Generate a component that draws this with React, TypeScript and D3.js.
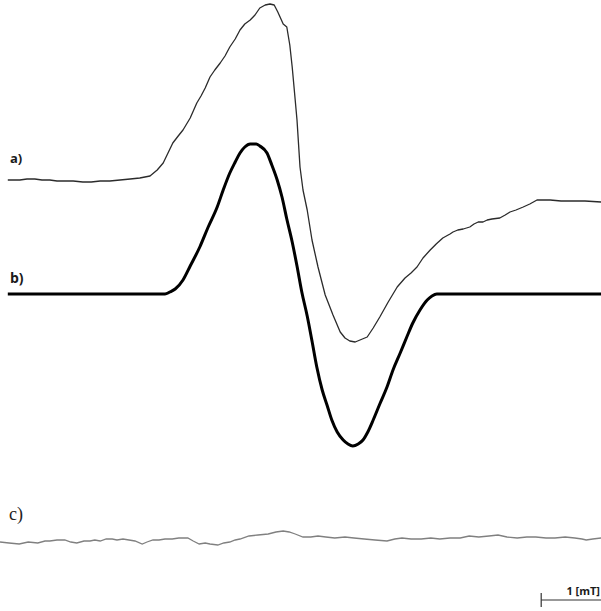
import React, { useEffect, useRef } from "react";
import * as d3 from "d3";

// field in mT, intensity in arbitrary units (relative to each trace's own baseline)
const traceA: [number, number][] = [
  [0.13, 0], [0.33, 0], [0.45, 1], [0.58, 1], [0.7, 0], [0.83, 0], [0.95, -1], [1.08, -1],
  [1.22, -1], [1.38, -2], [1.52, -2], [1.67, -1], [1.83, -1], [2.0, 0], [2.17, 1], [2.33, 2],
  [2.5, 4], [2.62, 10], [2.72, 17], [2.8, 27], [2.88, 37], [2.97, 44], [3.05, 50], [3.17, 62],
  [3.28, 77], [3.35, 84], [3.42, 92], [3.5, 103], [3.58, 110], [3.67, 117], [3.75, 124],
  [3.83, 133], [3.92, 141], [4.0, 150], [4.08, 156], [4.17, 160], [4.25, 165], [4.33, 172],
  [4.42, 175], [4.5, 176], [4.57, 175], [4.63, 168], [4.72, 156], [4.78, 153], [4.83, 135],
  [4.87, 113], [4.92, 80], [4.95, 60], [5.0, 13], [5.05, -10], [5.12, -30], [5.2, -60],
  [5.3, -87], [5.42, -115], [5.55, -135], [5.67, -152], [5.75, -158], [5.83, -161],
  [5.92, -162], [6.0, -160], [6.12, -157], [6.22, -148], [6.33, -137], [6.47, -122],
  [6.62, -107], [6.75, -98], [6.85, -93], [6.95, -87], [7.05, -78], [7.17, -70], [7.27, -64],
  [7.38, -58], [7.5, -54], [7.55, -52], [7.63, -50], [7.72, -49], [7.83, -47], [7.9, -44],
  [7.97, -42], [8.05, -42], [8.12, -40], [8.2, -39], [8.33, -38], [8.42, -35], [8.5, -32],
  [8.6, -30], [8.72, -27], [8.83, -24], [8.95, -20], [9.05, -20], [9.17, -20], [9.35, -21],
  [9.55, -21], [9.75, -21], [10.02, -22],
];

const traceB: [number, number][] = [
  [0.13, 0], [2.75, 0], [2.83, 2], [2.92, 5], [3.05, 14], [3.17, 28], [3.33, 47], [3.47, 67],
  [3.62, 87], [3.72, 104], [3.83, 121], [3.92, 132], [4.0, 141], [4.08, 147], [4.17, 150],
  [4.27, 150], [4.33, 148], [4.45, 141], [4.53, 129], [4.62, 114], [4.7, 97], [4.78, 75],
  [4.87, 52], [4.95, 28], [5.03, 2], [5.12, -22], [5.2, -47], [5.28, -73], [5.37, -96],
  [5.45, -111], [5.53, -126], [5.62, -138], [5.72, -146], [5.8, -150], [5.88, -152],
  [5.97, -150], [6.05, -146], [6.13, -138], [6.22, -126], [6.33, -110], [6.45, -93],
  [6.55, -76], [6.67, -59], [6.78, -43], [6.88, -29], [7.0, -16], [7.12, -6], [7.2, -2],
  [7.28, 0], [10.02, 0],
];

const traceC: [number, number][] = [
  [0.0, -4], [0.15, -5], [0.32, -6], [0.47, -4], [0.63, -5], [0.75, -3], [0.83, -3],
  [0.95, -2], [1.08, -2], [1.18, -4], [1.28, -5], [1.4, -3], [1.5, -3], [1.58, -2],
  [1.67, -3], [1.77, -1], [1.87, -1], [1.95, -2], [2.05, -1], [2.15, -2], [2.25, -3],
  [2.37, -6], [2.45, -4], [2.55, -2], [2.65, -2], [2.75, -1], [2.87, -1], [2.98, 0],
  [3.13, 0], [3.22, -3], [3.32, -6], [3.42, -5], [3.5, -6], [3.63, -7], [3.73, -5],
  [3.83, -4], [3.92, -2], [4.0, -1], [4.15, 2], [4.3, 3], [4.47, 4], [4.6, 6], [4.72, 7],
  [4.82, 6], [4.92, 4], [5.05, 1], [5.18, 1], [5.3, 2], [5.43, 1], [5.58, 0], [5.75, 1],
  [5.9, 0], [6.07, -1], [6.25, -2], [6.45, -3], [6.58, -1], [6.7, 0], [6.85, -1],
  [7.02, -1], [7.18, 0], [7.33, -1], [7.5, 0], [7.67, 0], [7.82, 2], [7.98, 1], [8.15, 2],
  [8.3, 3], [8.45, 1], [8.62, 0], [8.78, 1], [8.93, 1], [9.1, 0], [9.25, 0], [9.42, 1],
  [9.58, 0], [9.7, -1], [9.77, -2], [9.88, -1], [10.02, 0],
];

// vertical stacking of the three traces (arbitrary units above the bottom)
const traceOffsets = [431, 317, 73];
const traceLabels = ["a)", "b)", "c)"];
const scaleBarMT = 1;

export default function App() {
  const ref = useRef<SVGSVGElement>(null);
  const width = 601;
  const height = 611;

  useEffect(() => {
    const svg = d3.select(ref.current);
    svg.selectAll("*").remove();

    const x = d3.scaleLinear().domain([0, 10]).range([0, 600]);
    const y = d3.scaleLinear().domain([0, 611]).range([611, 0]);

    const line = (off: number) =>
      d3
        .line<[number, number]>()
        .x((d) => x(d[0]))
        .y((d) => y(d[1] + off));

    svg
      .append("path")
      .datum(traceA)
      .attr("d", line(traceOffsets[0]).curve(d3.curveLinear))
      .attr("fill", "none")
      .attr("stroke", "#2b2b2b")
      .attr("stroke-width", 1.3)
      .attr("stroke-linejoin", "round");

    svg
      .append("path")
      .datum(traceB)
      .attr("d", line(traceOffsets[1]).curve(d3.curveMonotoneX))
      .attr("fill", "none")
      .attr("stroke", "#000")
      .attr("stroke-width", 3);

    svg
      .append("path")
      .datum(traceC)
      .attr("d", line(traceOffsets[2]).curve(d3.curveLinear))
      .attr("fill", "none")
      .attr("stroke", "#808080")
      .attr("stroke-width", 1.3);

    // labels
    svg
      .append("text")
      .attr("x", 10)
      .attr("y", y(traceOffsets[0]) - 17)
      .attr("font-family", "'Open Sans', sans-serif")
      .attr("font-weight", "bold")
      .attr("font-size", 13)
      .attr("fill", "#1a1a1a")
      .text(traceLabels[0]);
    svg
      .append("text")
      .attr("x", 10)
      .attr("y", y(traceOffsets[1]) - 11)
      .attr("font-family", "'Open Sans', sans-serif")
      .attr("font-weight", "bold")
      .attr("font-size", 14)
      .attr("fill", "#1a1a1a")
      .text(traceLabels[1]);
    svg
      .append("text")
      .attr("x", 9)
      .attr("y", y(traceOffsets[2]) - 18)
      .attr("font-family", "'Liberation Serif', serif")
      .attr("font-size", 18)
      .attr("fill", "#222")
      .text(traceLabels[2]);

    // scale bar
    const barY = 600;
    const x0 = x(10.02) - (x(scaleBarMT) - x(0));
    const g = svg.append("g").attr("stroke", "#333").attr("stroke-width", 1.2);
    g.append("line").attr("x1", x0).attr("x2", width).attr("y1", barY).attr("y2", barY);
    g.append("line").attr("x1", x0).attr("x2", x0).attr("y1", barY - 7).attr("y2", barY + 7);
    svg
      .append("text")
      .attr("x", width - 1)
      .attr("y", barY - 5)
      .attr("text-anchor", "end")
      .attr("font-family", "'Open Sans', sans-serif")
      .attr("font-weight", "bold")
      .attr("font-size", 11)
      .attr("fill", "#1a1a1a")
      .text(`${scaleBarMT} [mT]`);
  });

  return (
    <svg
      ref={ref}
      width={width}
      height={height}
      style={{ position: "absolute", left: 0, top: 0, background: "#fff" }}
    />
  );
}
